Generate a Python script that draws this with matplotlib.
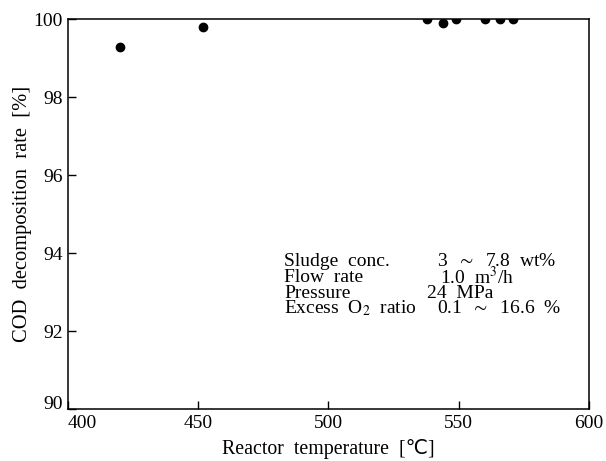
import matplotlib
matplotlib.use("Agg")
import matplotlib.pyplot as plt

# data
temp = [420, 452, 538, 544, 549, 560, 566, 571]
cod = [99.3, 99.8, 100.0, 99.9, 100.0, 100.0, 100.0, 100.0]

cond_names = ["Sludge  conc.", "Flow  rate", "Pressure", "Excess  O$_2$  ratio"]
cond_values = ["3  $\\sim$  7.8  wt%", "1.0  m$^3$/h", "24  MPa", "0.1  $\\sim$  16.6  %"]
cond_x = [437, 440, 427, 437]  # second column start, pixel

plt.rcParams['font.family'] = ['Liberation Serif', 'DejaVu Serif']
plt.rcParams['mathtext.fontset'] = 'stix'

fig = plt.figure(figsize=(6.06, 4.61), dpi=100)
ax = fig.add_axes([67.7/606, 1 - 409/461, (589 - 67.7)/606, (409 - 19.3)/461])

ax.plot(temp, cod, 'o', color='black', markersize=6)

ax.set_xlim(400, 600)
ax.set_ylim(90, 100)
ax.set_xticks([400, 450, 500, 550, 600])
ax.set_yticks([90, 92, 94, 96, 98, 100])
ax.tick_params(direction='in', length=6, width=1, labelsize=14, pad=3.4)
ax.tick_params(axis='x', pad=4.3)
ax.get_xticklabels()[0].set_ha('left')
ax.get_yticklabels()[0].set_va('baseline')
for s in ax.spines.values():
    s.set_linewidth(1.1)

ax.set_xlabel("Reactor  temperature  [℃]", fontsize=14.3, labelpad=5,
              family=['Liberation Serif', 'DejaVu Sans'])
ax.set_ylabel("COD  decomposition  rate  [%]", fontsize=14.8, labelpad=1)

# operating conditions text block
line_y = [262, 277.5, 293, 308.5]
for name, val, vx, y in zip(cond_names, cond_values, cond_x, line_y):
    fig.text(284/606, 1 - y/461, name, fontsize=14, va='center', ha='left')
    fig.text(vx/606, 1 - y/461, val, fontsize=14, va='center', ha='left')

fig.savefig("out.png", dpi=100)
